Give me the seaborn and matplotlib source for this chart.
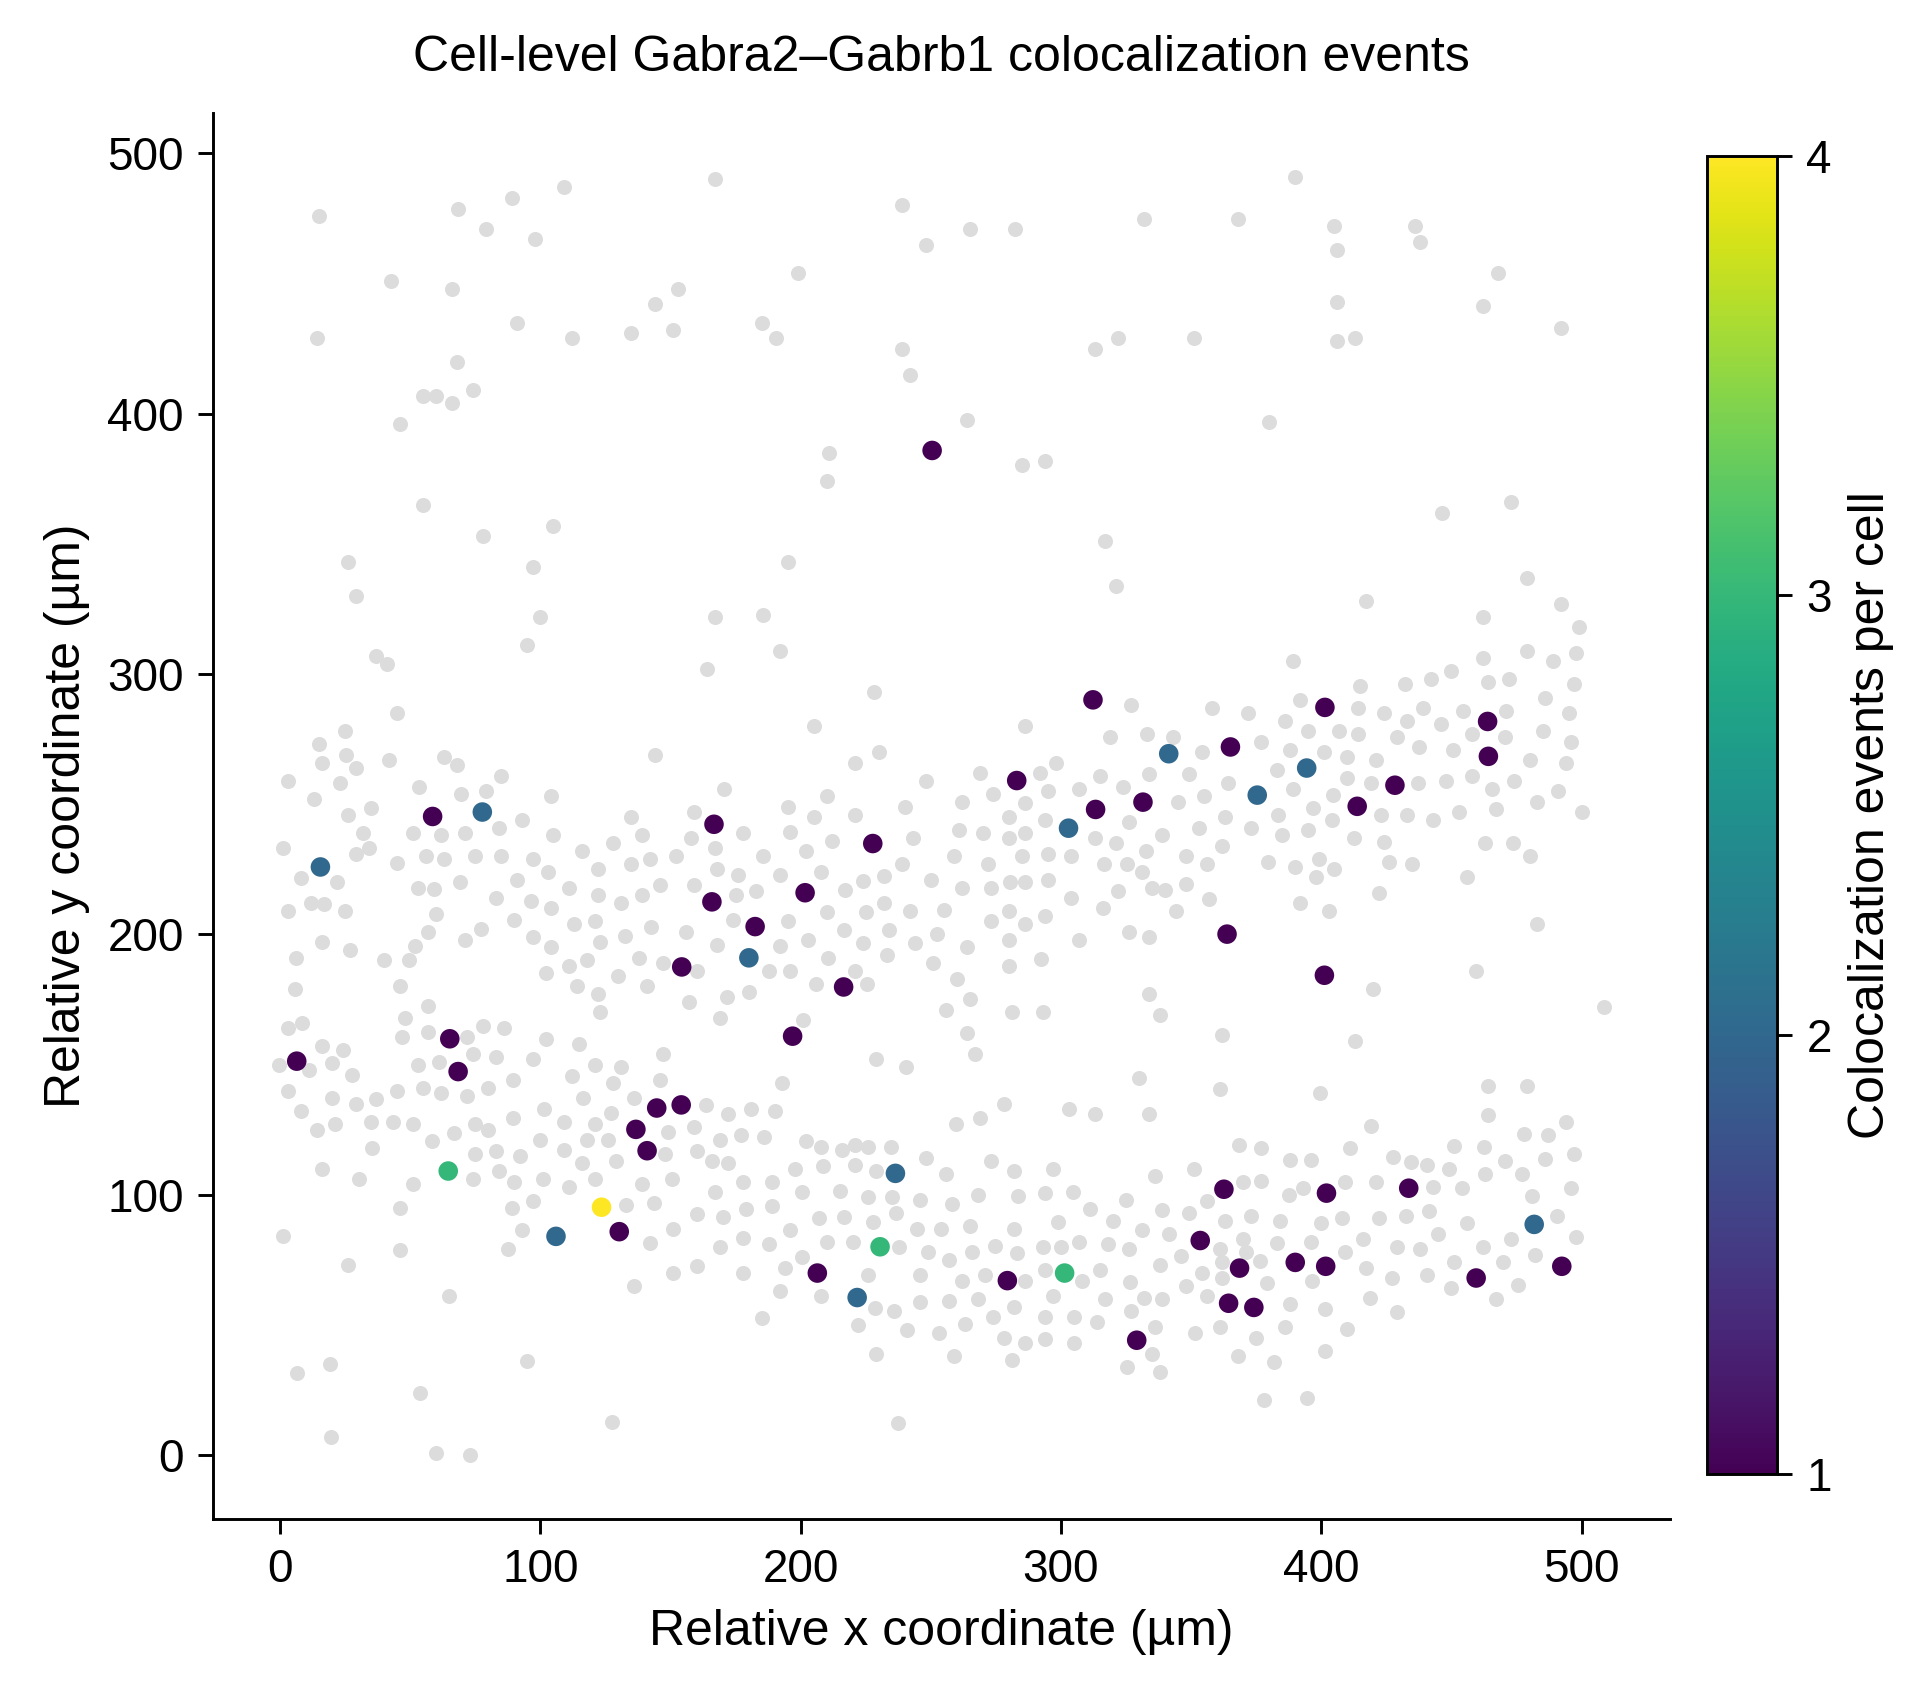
import pandas as pd
import matplotlib
matplotlib.use("Agg")
import matplotlib.pyplot as plt
import seaborn as sns

# --- data (µm, relative to slice origin) ---
# cells with at least one Gabra2-Gabrb1 colocalization event
event_x = [250.5, 15.5, 77.7, 58.6, 6.4, 65.2, 68.4, 64.6, 106, 123.5,
           130.3, 136.7, 141.0, 144.7, 154.1, 154.3, 165.9, 166.7, 182.5, 180.1,
           201.7, 196.9, 216.5, 227.7, 206.4, 221.7, 230.5, 236.4, 283.0, 279.4,
           301.4, 302.9, 312.3, 313.3, 331.5, 341.4, 329.1, 365.1, 363.8, 375.4,
           353.5, 362.6, 368.6, 364.4, 374.1, 390.0, 394.4, 401.4, 401.2, 402.0,
           401.7, 413.8, 428.3, 433.6, 463.9, 464.2, 459.5, 481.8, 492.4]
event_y = [385.9, 225.9, 247.0, 245.3, 151.3, 159.9, 147.3, 109.1, 84, 95.2,
           85.8, 125.1, 116.9, 133.3, 134.5, 187.5, 212.5, 242.3, 203.0, 191.0,
           216.0, 160.9, 179.8, 234.9, 69.9, 60.5, 80.0, 108.2, 259.1, 67.0,
           69.9, 240.8, 290.1, 248.0, 250.8, 269.4, 44.1, 272.0, 200.1, 253.5,
           82.4, 102.1, 71.8, 58.3, 56.7, 74.0, 263.9, 287.2, 184.3, 100.6,
           72.5, 249.2, 257.3, 102.5, 281.8, 268.4, 68.0, 88.6, 72.5]
event_count = [1, 2, 2, 1, 1, 1, 1, 3, 2, 4,
               1, 1, 1, 1, 1, 1, 1, 1, 1, 2,
               1, 1, 1, 1, 1, 2, 3, 2, 1, 1,
               3, 2, 1, 1, 1, 2, 1, 1, 1, 2,
               1, 1, 1, 1, 1, 1, 2, 1, 1, 1,
               1, 1, 1, 1, 1, 1, 1, 2, 1]

# all other segmented cells (no event)
other_cells = [
    # sparse top region
    (15, 476), (14, 429), (42.5, 451), (66, 448), (68.5, 478.5), (79, 471), (89, 483), (98, 467),
    (109, 487), (91, 435), (112, 429), (68, 420), (74, 409), (55, 407), (60, 407), (66, 404), (46, 396),
    (167, 490), (239, 480), (248, 465), (199, 454), (153, 448), (144, 442), (135, 431), (151, 432),
    (185, 435), (190.5, 429), (239, 425), (242, 415), (211, 385), (210, 374),
    (265, 471), (282.5, 471), (332, 475), (368, 475), (390, 491), (313, 425), (322, 429), (351, 429),
    (264, 397.5), (380, 397), (285, 380.5), (294, 382),
    (405, 472), (406, 463), (436, 472), (438, 466), (468, 454), (462, 441.5), (492, 433), (406, 443),
    (406, 428), (413, 429),
    # upper band, left
    (55, 365), (78, 353), (105, 357), (26, 343), (29, 330), (97, 341), (100, 322), (95, 311), (37, 307),
    (41, 304), (45, 285), (25, 278), (15, 273), (25.5, 269), (16, 266), (29, 264), (42, 267), (63, 268),
    (68, 265), (3, 259), (23, 258), (13, 252), (53.5, 256.5), (85, 261), (79, 255), (69.5, 254), (104, 253),
    (35, 248.5), (26, 246), (93, 244), (32, 239), (51, 239), (62, 238), (71, 239), (84, 241), (105, 238),
    (1, 233), (29, 231), (34, 233), (45, 227.5), (56, 230), (63, 229), (75, 230), (85, 230), (97, 229),
    (103, 224), (8, 221.5), (22, 220), (53, 218), (59, 217.5), (69, 220), (91, 221), (83, 214), (96.5, 213),
    (104, 210), (12, 212), (17, 211.5), (3, 209), (25, 209), (60, 208), (57, 201), (77, 202), (71, 198),
    (90, 205.5), (97, 199), (104, 195), (16, 197), (27, 194), (6, 191), (52, 195.5), (49.5, 190), (40, 190),
    (102, 185), (5.6, 179), (46, 180),
    # upper band, centre-left
    (195, 343), (167, 322), (185.5, 322.5), (192, 309), (164, 302), (228, 293), (205, 280), (144, 269),
    (221, 266), (230, 270), (170.5, 256), (210, 253), (195, 249), (240, 249), (135, 245), (159, 247),
    (205, 245), (221, 246), (139, 238), (128, 235), (116, 232), (158, 237), (167, 233), (178, 239),
    (196, 239.5), (212, 236), (135, 227), (142, 229), (152, 230), (185.5, 230), (202, 232), (122, 225),
    (168, 225), (176, 223), (192, 223), (208, 224), (239, 227), (232, 222.5), (224, 220.5), (111, 218),
    (122, 215), (131, 212), (139, 215), (146, 219), (159, 219), (175, 215), (183, 216.5), (217, 217),
    (232, 212), (225, 208.5), (210, 208.5), (113, 204), (121, 205), (142.5, 203), (156, 201), (174, 205.5),
    (195, 205), (216.5, 201.5), (234, 201.5), (123, 197), (132.5, 199.5), (168, 196), (192, 195.5),
    (203, 198), (224, 196.6), (233, 192), (111, 188), (118, 190), (138, 191), (147, 189), (160, 186),
    (188, 186), (196, 186), (210.5, 191), (221, 186), (130, 184), (114, 180), (122, 177), (141, 180),
    (171.6, 176), (180, 178), (206, 181), (225.6, 181),
    # upper band, centre-right
    (317, 351), (321, 334), (327, 288), (358, 287), (372, 285), (286, 280), (319, 276), (333, 277),
    (343, 276), (354, 270), (377, 274), (248, 259), (269, 262), (292, 262), (298, 266), (315, 261),
    (334, 261.5), (349, 261.5), (364, 258), (262, 251), (274, 254), (286, 250.5), (295, 255), (307, 256),
    (324, 256.5), (345, 251), (355, 253), (280, 245), (294, 244), (326, 243), (363, 245), (243, 237),
    (261, 240), (270, 239), (280, 237), (286, 239), (313, 237), (321, 235), (339, 238), (353, 241),
    (373, 241), (362, 234), (259, 230), (272, 227), (285, 230), (295, 231), (304, 230), (316.5, 227),
    (325.5, 227), (332.5, 232), (331, 224), (348, 230), (356, 227), (250, 221), (262, 218), (273, 218),
    (280.5, 220), (286, 220), (295, 221), (304, 214), (322, 216.6), (335, 218), (340, 217), (348, 219.4),
    (357, 213.5), (242, 209), (255, 209.5), (280, 209), (273, 205), (286, 204), (294, 207), (316, 210),
    (344, 209), (252.5, 200), (244, 196.6), (264, 195), (280, 198), (307, 198), (326, 201), (334, 199),
    (251, 189), (280, 188), (292.5, 190.6), (260, 183), (334, 177),
    # upper band, right
    (446.5, 362), (473, 366), (479, 337), (417, 328), (492, 327), (462, 322), (499, 318), (389, 305),
    (462, 306), (479, 309), (489, 305), (498, 308), (415, 295.5), (432, 296), (442, 298), (450, 301),
    (464, 297), (472, 298), (497, 296), (486, 291), (392, 290), (414, 287), (424, 285), (433, 282),
    (439, 287), (454.5, 286), (471, 286), (495, 285), (386, 282), (395, 278), (407, 278), (414, 277),
    (429, 276), (446, 281), (458, 277), (470.5, 276), (485, 278), (496, 274), (388, 271), (401, 270),
    (410, 268), (421, 267), (437.5, 272), (450.5, 271), (480, 267), (494, 266), (383, 263), (410, 260),
    (419, 258), (437, 258), (448, 259), (458, 261), (474, 259), (491, 255), (389, 256), (465.5, 256),
    (404.5, 253.5), (397, 248.5), (383.5, 246), (423, 246), (433, 246), (443, 244), (453, 247), (467, 248),
    (483, 251), (500, 247), (404, 244), (385, 238), (395, 240), (412.5, 237), (424, 235.5), (463, 235),
    (473.5, 235), (480, 230), (379.5, 228), (390, 226), (399, 229), (405, 225), (398, 222), (426, 228),
    (435, 227), (456, 222), (422, 216), (392, 212), (403, 209), (483, 204), (420, 179), (459.5, 186),
    # lower band, left
    (57, 172.6), (48, 168), (3, 164), (8.6, 166), (47, 160.6), (57, 162.6), (72, 160.5), (78, 165),
    (86, 164), (102, 160), (16, 157), (24, 155.6), (-0.4, 150), (11, 148), (20, 150.5), (27.6, 146),
    (53, 150), (61, 151), (74, 154), (83, 153), (97, 152), (89.6, 144), (80, 141), (72, 138), (62, 139),
    (55, 141), (45, 140), (37, 136.6), (29, 135), (20, 137), (3, 140), (8, 132), (14, 125), (21, 127),
    (35, 128), (43.5, 128), (51, 127), (58.5, 120.5), (67, 123.6), (75, 127), (80, 125), (89.5, 129.5),
    (101.5, 133), (100, 121), (35.5, 118), (75, 115.6), (83, 116.6), (92, 115), (16, 110), (30.5, 106),
    (74, 106), (84, 109), (90, 105), (101, 106), (51, 104), (46, 95), (89, 95), (97, 97.6), (1, 84),
    (93, 86.5), (87.6, 79), (46, 78.7), (26, 73), (65, 61), (95, 36), (6.6, 31.7), (19, 35), (53.6, 24),
    (19.6, 7), (60, 0.6), (73, 0),
    # lower band, centre-left
    (157, 174), (123, 170), (169, 168), (201, 167), (115, 158), (147, 154), (121, 150), (131, 149),
    (112, 145.5), (128, 143), (146, 144), (193, 143), (229, 152), (240.5, 149), (116.5, 137), (136, 137),
    (163.5, 134.5), (172, 131), (181, 133), (190, 132), (109, 128), (121, 127), (127, 131.5), (149, 124),
    (159, 126), (169, 121), (177, 123), (186, 122), (202, 120.5), (208, 118.5), (216, 117), (221, 119),
    (226, 118.5), (234.6, 118.5), (109, 117), (118, 121), (126, 121), (148, 115.5), (160, 116.6),
    (166, 113), (172, 112), (116, 112), (129, 113), (198, 110), (208.5, 111), (221, 111.5), (229, 109),
    (111, 103), (121, 106), (139, 104), (150.5, 106), (167, 101), (178, 105), (189, 105), (200.6, 101),
    (215, 101.6), (226, 99), (235, 99), (236.7, 93), (133, 96), (143.5, 97), (160, 92.5), (170, 91.6),
    (179, 94.7), (189, 95.5), (207, 91), (216.6, 91.3), (227.7, 89.7), (142, 81.5), (151, 87), (169, 80),
    (178, 83.5), (188, 81), (196, 86.5), (210, 82), (220, 82), (237.7, 80), (200.5, 76), (151, 70),
    (160, 72.6), (178, 70), (194, 72), (226, 69), (136, 65), (192, 63), (208, 61), (228.6, 56.6),
    (236, 55.5), (185, 52.5), (222, 50), (241, 48), (229, 39), (127.6, 12.5), (237.4, 12.3),
    # lower band, centre-right
    (265, 175), (256, 171), (281, 170), (293, 170), (338, 169), (264, 162), (267, 154), (362, 161.5),
    (330, 145), (361, 140.5), (278, 135), (269, 129.5), (259.5, 127), (303, 133), (313, 131), (334, 131),
    (368.5, 119), (248, 114), (273, 113), (256, 108), (282, 109), (297, 110), (336, 107), (351, 110),
    (370, 105), (377, 105.4), (246, 98), (258, 96.5), (268, 100), (283.5, 99.5), (294, 100.7),
    (304.5, 101), (311, 94.5), (320, 90), (325, 98), (339, 94), (349, 93), (356, 97.5), (363, 90),
    (373, 92), (244.5, 87), (254, 87), (265, 88), (282, 87), (299, 89.5), (331, 86.6), (341.6, 85),
    (370, 83), (249, 78), (257, 75), (266, 78), (274.5, 80.4), (283, 77.7), (293, 80), (300, 80),
    (307, 82), (318, 81), (326, 79), (346, 76.6), (361, 79), (371, 78), (376.5, 74.5), (338, 73),
    (362, 74), (246, 69), (262, 67), (271, 69), (286, 67), (294, 71), (308, 67), (315, 71), (326.5, 66.5),
    (354, 70), (362, 68), (348, 65), (246, 58.6), (257, 59), (268, 60), (282, 57), (297, 61), (317, 60),
    (332, 60.5), (339, 60), (356, 61), (327, 55.5), (253, 47), (263, 50.5), (274, 53), (294, 53),
    (305, 53), (314, 51), (336, 49), (351.5, 47), (361, 49), (375, 45), (278, 45), (286, 43),
    (294, 44.5), (305, 43), (335, 39), (259, 38), (281, 36.5), (325.5, 34), (338, 32), (368, 38), (378, 21),
    # lower band, right
    (508.5, 172), (413, 159), (399.5, 139), (464, 141.6), (479, 141.6), (464, 130.6), (494, 128),
    (419, 126.5), (478, 123.5), (487, 123), (377, 118), (411, 118), (451, 118.75), (462.6, 118.3),
    (388, 113.5), (396, 113.4), (427.6, 114.4), (434.6, 112.6), (440.5, 111.5), (449, 110), (470.5, 113),
    (486, 113.6), (497, 115.6), (387.5, 100), (393, 102.5), (409, 105), (421, 105), (443, 103),
    (454, 102.6), (463, 108), (477, 108), (481, 99.6), (496, 102.7), (384, 90), (400, 89), (408, 91),
    (422, 91), (432.5, 92), (441.5, 93.7), (456, 89), (490.5, 92), (498, 83.6), (383, 81.5), (396, 82),
    (409, 78), (416, 83), (429, 80), (438, 79), (445, 85), (462, 80), (473, 83), (482, 77), (417, 71.7),
    (427, 68), (440.5, 69), (451, 74), (470, 74), (379, 66), (396.5, 67), (450, 64), (475.5, 65.5),
    (467, 60), (418.6, 60.5), (388, 58), (401.6, 56), (429, 55), (386, 49), (410, 48.6), (401.5, 40),
    (382, 35.6), (394.6, 22),
]

# --- style ---
sns.set_theme(style="ticks", context="notebook")
plt.rcParams["font.family"] = ["Liberation Sans", "DejaVu Sans"]
for key in ["text.color", "axes.labelcolor", "axes.edgecolor", "xtick.color", "ytick.color"]:
    plt.rcParams[key] = "black"
plt.rcParams["axes.linewidth"] = 0.7
plt.rcParams["xtick.major.width"] = 0.7
plt.rcParams["ytick.major.width"] = 0.7
plt.rcParams["xtick.major.size"] = 3.5
plt.rcParams["ytick.major.size"] = 3.5

bg = pd.DataFrame(other_cells, columns=["x", "y"])
ev = pd.DataFrame({"x": event_x, "y": event_y, "events": event_count})

fig = plt.figure(figsize=(1931 / 300, 1696 / 300), dpi=300)
ax = fig.add_axes([0.1102, 0.1044, 0.7546, 0.8290])
cax = fig.add_axes([0.8840, 0.1309, 0.0363, 0.7771])

sns.scatterplot(data=bg, x="x", y="y", color="#dcdcdc", s=13, linewidth=0, ax=ax, zorder=1)
sns.scatterplot(data=ev, x="x", y="y", hue="events", palette="viridis", hue_norm=(1, 4),
                s=22, linewidth=0, legend=False, ax=ax, zorder=2)

ax.set_xticks([0, 100, 200, 300, 400, 500])
ax.set_yticks([0, 100, 200, 300, 400, 500])
ax.set_xlabel("Relative x coordinate (µm)", fontsize=12)
ax.set_ylabel("Relative y coordinate (µm)", fontsize=12)
ax.set_title("Cell-level Gabra2–Gabrb1 colocalization events", fontsize=12, pad=10)
ax.tick_params(labelsize=11)
sns.despine(ax=ax)

sm = plt.cm.ScalarMappable(cmap="viridis", norm=plt.Normalize(1, 4))
cb = fig.colorbar(sm, cax=cax, ticks=[1, 2, 3, 4])
cb.set_label("Colocalization events per cell", fontsize=12)
cb.ax.tick_params(labelsize=11, width=0.7, length=3.5)
cb.outline.set_linewidth(0.7)

fig.savefig("out.png", dpi=300)
